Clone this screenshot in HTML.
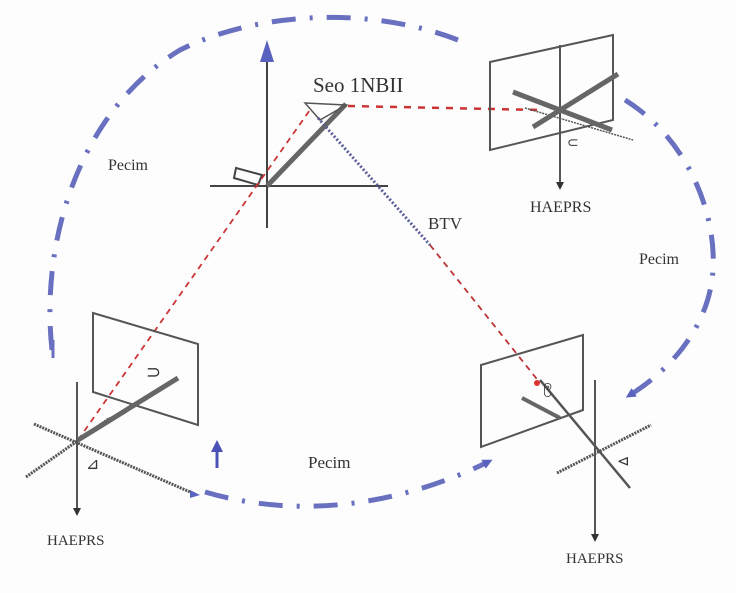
<!DOCTYPE html>
<html><head><meta charset="utf-8"><style>
html,body{margin:0;padding:0;background:#fdfdfe;}
svg{display:block;}
text{font-family:"Liberation Serif",serif;fill:#333;}
</style></head><body>
<svg width="736" height="593" viewBox="0 0 736 593" xmlns="http://www.w3.org/2000/svg">
<defs>
<marker id="ab" markerWidth="10" markerHeight="10" refX="5" refY="5" orient="auto" markerUnits="userSpaceOnUse"><path d="M0,0 L10,5 L0,10 Z" fill="#5a62c0"/></marker>
<marker id="ak" markerWidth="8" markerHeight="10" refX="4" refY="5" orient="auto" markerUnits="userSpaceOnUse"><path d="M0,1 L8,5 L0,9 Z" fill="#333"/></marker>
</defs>
<g fill="none" stroke="#6a70c0" stroke-width="5" stroke-dasharray="24 14 3 14" stroke-linecap="butt">
<path d="M52,350 C40,240 80,110 180,50 C260,10 380,5 470,45" />
<path d="M625,100 C690,140 720,220 712,280 C705,330 670,370 630,395" marker-end="url(#ab)"/>
<path d="M205,492 C300,520 400,505 488,462" marker-end="url(#ab)"/>
</g>
<path d="M53,340 L53,358" stroke="#6a70c0" stroke-width="3"/>
<g stroke="#444" stroke-width="2" fill="none">
<line x1="267" y1="58" x2="267" y2="228"/>
<line x1="210" y1="186" x2="388" y2="186"/>
</g>
<path d="M260,62 L267,40 L274,62 Z" fill="#5a62c0"/>
<line x1="267" y1="186" x2="346" y2="104" stroke="#666" stroke-width="5"/>
<path d="M305,103 L346,105 L320,120 Z" fill="none" stroke="#555" stroke-width="1.5"/>
<path d="M236,168 L262,175 L258,185 L234,178 Z" fill="none" stroke="#444" stroke-width="2"/>
<line x1="78" y1="440" x2="312" y2="107" stroke="#c33" stroke-width="1.8" stroke-dasharray="6 5"/>
<line x1="348" y1="106" x2="540" y2="110" stroke="#c33" stroke-width="2.5" stroke-dasharray="7 7"/>
<line x1="318" y1="118" x2="430" y2="245" stroke="#5a5f9a" stroke-width="3" stroke-dasharray="2 2"/>
<line x1="430" y1="245" x2="540" y2="383" stroke="#b33" stroke-width="1.8" stroke-dasharray="6 5"/>
<g stroke="#555" stroke-width="2" fill="none">
<path d="M490,62 L613,35 L613,120 L490,150 Z"/>
<line x1="560" y1="45" x2="560" y2="186" marker-end="url(#ak)"/>
<line x1="525" y1="108" x2="633" y2="140" stroke-width="1.5" stroke-dasharray="2 1"/>
</g>
<line x1="513" y1="92" x2="612" y2="130" stroke="#666" stroke-width="5"/>
<line x1="533" y1="127" x2="618" y2="74" stroke="#666" stroke-width="5"/>
<g stroke="#555" stroke-width="2" fill="none">
<path d="M93,313 L198,344 L198,425 L93,392 Z"/>
<line x1="77" y1="382" x2="77" y2="512" marker-end="url(#ak)"/>
<line x1="34" y1="424" x2="190" y2="492" stroke-width="3" stroke-dasharray="2 1"/>
<line x1="26" y1="477" x2="110" y2="418" stroke-width="3" stroke-dasharray="2 1"/>
</g>
<line x1="78" y1="440" x2="178" y2="378" stroke="#666" stroke-width="5"/>
<path d="M190,490 L200,495 L190,498 Z" fill="#5a62c0"/>
<line x1="217" y1="468" x2="217" y2="450" stroke="#4a52b8" stroke-width="3"/>
<path d="M211,452 L217,440 L223,452 Z" fill="#4a52b8"/>
<g stroke="#555" stroke-width="2" fill="none">
<path d="M481,365 L583,335 L583,410 L481,447 Z"/>
<line x1="595" y1="380" x2="595" y2="538" marker-end="url(#ak)"/>
<line x1="557" y1="473" x2="651" y2="425" stroke-width="3" stroke-dasharray="2 1"/>
<line x1="540" y1="380" x2="630" y2="488" stroke-width="2.5"/>
</g>
<line x1="522" y1="398" x2="560" y2="418" stroke="#666" stroke-width="4"/>
<circle cx="537" cy="383" r="3" fill="#d33"/>
<text x="108" y="170" font-size="16">Pecim</text>
<text x="639" y="264" font-size="16">Pecim</text>
<text x="308" y="468" font-size="17">Pecim</text>
<text x="313" y="92" font-size="21">Seo 1NBII</text>
<text x="428" y="229" font-size="17">BTV</text>
<text x="530" y="212" font-size="16">HAEPRS</text>
<text x="47" y="545" font-size="15">HAEPRS</text>
<text x="566" y="563" font-size="15">HAEPRS</text>
<text x="146" y="378" font-size="18">⊃</text>
<text x="86" y="469" font-size="16">⊿</text>
<text x="617" y="466" font-size="15">⊲</text>
<text x="543" y="390" font-size="16">ဨ</text>
<text x="567" y="147" font-size="14">⊂</text>
</svg>
</body></html>
